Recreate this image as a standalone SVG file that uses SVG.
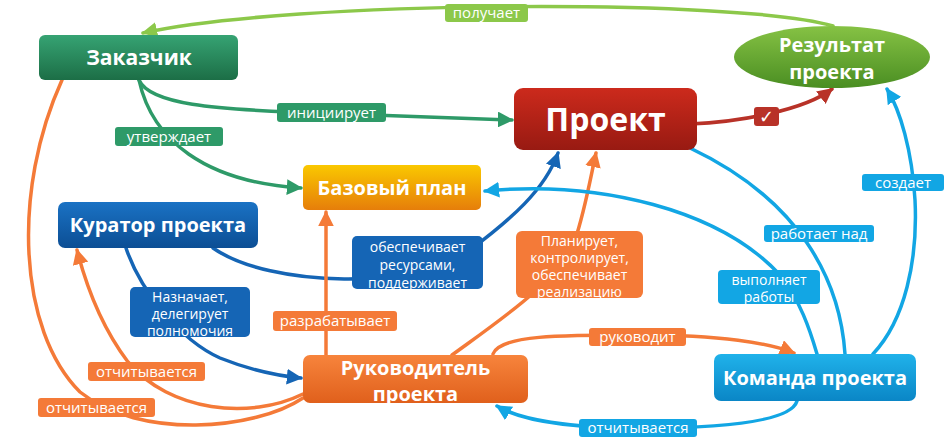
<svg xmlns="http://www.w3.org/2000/svg" width="950" height="438" viewBox="0 0 950 438">
<defs>
<linearGradient id="gZak" x1="0" y1="0" x2="0" y2="1"><stop offset="0" stop-color="#36a373"/><stop offset="1" stop-color="#1c6e46"/></linearGradient>
<linearGradient id="gPro" x1="0" y1="0" x2="0" y2="1"><stop offset="0" stop-color="#cc2a1c"/><stop offset="1" stop-color="#981a12"/></linearGradient>
<linearGradient id="gRes" x1="0" y1="0" x2="0" y2="1"><stop offset="0" stop-color="#86c244"/><stop offset="1" stop-color="#4a8e22"/></linearGradient>
<linearGradient id="gBaz" x1="0" y1="0" x2="0" y2="1"><stop offset="0" stop-color="#fac800"/><stop offset="1" stop-color="#e67e0a"/></linearGradient>
<linearGradient id="gKur" x1="0" y1="0" x2="0" y2="1"><stop offset="0" stop-color="#1a72c4"/><stop offset="1" stop-color="#0c4e94"/></linearGradient>
<linearGradient id="gRuk" x1="0" y1="0" x2="0" y2="1"><stop offset="0" stop-color="#f7843c"/><stop offset="1" stop-color="#e0601c"/></linearGradient>
<linearGradient id="gKom" x1="0" y1="0" x2="0" y2="1"><stop offset="0" stop-color="#20b2ea"/><stop offset="1" stop-color="#0a86c6"/></linearGradient>
<marker id="aLG" viewBox="0 0 10 10" refX="9" refY="5" markerWidth="4.5" markerHeight="4.5" orient="auto"><path d="M0 0 L10 5 L0 10 z" fill="#8cc84a"/></marker>
<marker id="aG" viewBox="0 0 10 10" refX="9" refY="5" markerWidth="4.5" markerHeight="4.5" orient="auto"><path d="M0 0 L10 5 L0 10 z" fill="#2e9a68"/></marker>
<marker id="aR" viewBox="0 0 10 10" refX="9" refY="5" markerWidth="4.5" markerHeight="4.5" orient="auto"><path d="M0 0 L10 5 L0 10 z" fill="#b83228"/></marker>
<marker id="aB" viewBox="0 0 10 10" refX="9" refY="5" markerWidth="4.5" markerHeight="4.5" orient="auto"><path d="M0 0 L10 5 L0 10 z" fill="#1565b5"/></marker>
<marker id="aO" viewBox="0 0 10 10" refX="9" refY="5" markerWidth="4.5" markerHeight="4.5" orient="auto"><path d="M0 0 L10 5 L0 10 z" fill="#f47a38"/></marker>
<marker id="aC" viewBox="0 0 10 10" refX="9" refY="5" markerWidth="4.5" markerHeight="4.5" orient="auto"><path d="M0 0 L10 5 L0 10 z" fill="#12a6e4"/></marker>
</defs>
<style>
.node text{font-family:"Open Sans","Noto Sans",sans-serif;font-weight:bold;fill:#fff;text-anchor:middle}
.nt{font-size:20px}
.c{fill:none;stroke-width:3.5;stroke-linecap:round}
.lbl{font-family:"Open Sans","Noto Sans",sans-serif;font-size:15px;fill:#fff;text-anchor:middle}
.ml{font-size:14px}
.lg{stroke:#8cc84a}.g{stroke:#2e9a68}.r{stroke:#b83228}.b{stroke:#1565b5}.o{stroke:#f47a38}.cy{stroke:#12a6e4}
</style>
<g id="connectors">
<path class="c lg" d="M833 26 C740 -2 290 0 143 33" marker-end="url(#aLG)"/>
<path class="c g" d="M139 80 C150 105 220 109 290 112 L512 120" marker-end="url(#aG)"/>
<path class="c g" d="M139 80 C152 140 205 182 301 188" marker-end="url(#aG)"/>
<path class="c r" d="M690 124 C740 122 805 110 832 89" marker-end="url(#aR)"/>
<path class="c b" d="M213 248 C270 288 420 290 470 250 C510 220 545 190 558 153" marker-end="url(#aB)"/>
<path class="c b" d="M126 248 C140 290 180 340 220 358 C250 370 280 376 301 378" marker-end="url(#aB)"/>
<path class="c o" d="M452 355 C500 320 560 280 575 240 C585 210 590 180 596 153" marker-end="url(#aO)"/>
<path class="c o" d="M326 355 L326 212" marker-end="url(#aO)"/>
<path class="c o" d="M303 394 C250 420 170 412 128 362 C100 325 86 285 77 250" marker-end="url(#aO)"/>
<path class="c o" d="M62 80 C12 190 18 330 80 392 C140 440 255 430 303 398"/>
<path class="c o" d="M493 354 C500 335 560 335 640 335 C720 335 770 343 794 353" marker-end="url(#aO)"/>
<path class="c cy" d="M797 401 C790 425 700 428 640 428 C570 428 520 420 497 406" marker-end="url(#aC)"/>
<path class="c cy" d="M817 354 C810 330 800 300 780 275 C720 210 600 180 485 191" marker-end="url(#aC)"/>
<path class="c cy" d="M845 354 C840 280 800 200 690 148"/>
<path class="c cy" d="M873 354 C905 320 918 260 915 200 C912 150 900 110 887 89" marker-end="url(#aC)"/>
</g>
<g id="labels">
<rect x="445" y="4" width="83" height="18" rx="3" fill="#8cc84a"/><text class="lbl" x="486.5" y="18">получает</text>
<rect x="277" y="103" width="109" height="19" rx="3" fill="#2e9a68"/><text class="lbl" x="331.5" y="118">инициирует</text>
<rect x="115" y="127" width="108" height="19" rx="3" fill="#2e9a68"/><text class="lbl" x="169" y="142">утверждает</text>
<rect x="754" y="107" width="25" height="19" rx="3" fill="#b83228"/><text class="lbl" x="766.5" y="123" style="font-family:'DejaVu Sans',sans-serif;font-weight:bold;font-size:18px">✓</text>
<rect x="352" y="236" width="131" height="53" rx="5" fill="#1565b5"/><text class="lbl ml" x="417.5" y="252">обеспечивает</text><text class="lbl ml" x="417.5" y="270">ресурсами,</text><text class="lbl ml" x="417.5" y="288">поддерживает</text>
<rect x="516" y="231" width="127" height="67" rx="6" fill="#f47a38"/><text class="lbl ml" x="579.5" y="246">Планирует,</text><text class="lbl ml" x="579.5" y="263">контролирует,</text><text class="lbl ml" x="579.5" y="280">обеспечивает</text><text class="lbl ml" x="579.5" y="297">реализацию</text>
<rect x="273" y="311" width="124" height="20" rx="3" fill="#f47a38"/><text class="lbl" x="335" y="326">разрабатывает</text>
<rect x="130" y="287" width="120" height="50" rx="5" fill="#1565b5"/><text class="lbl ml" x="190" y="302">Назначает,</text><text class="lbl ml" x="190" y="319">делегирует</text><text class="lbl ml" x="190" y="336">полномочия</text>
<rect x="88" y="362" width="117" height="19" rx="3" fill="#f47a38"/><text class="lbl" x="146.5" y="377">отчитывается</text>
<rect x="38" y="398" width="117" height="19" rx="3" fill="#f47a38"/><text class="lbl" x="96.5" y="413">отчитывается</text>
<rect x="589" y="328" width="97" height="18" rx="3" fill="#f47a38"/><text class="lbl" x="637.5" y="342">руководит</text>
<rect x="579" y="419" width="118" height="18" rx="3" fill="#12a6e4"/><text class="lbl" x="638" y="433">отчитывается</text>
<rect x="718" y="270" width="102" height="34" rx="4" fill="#12a6e4"/><text class="lbl ml" x="769" y="285">выполняет</text><text class="lbl ml" x="769" y="302">работы</text>
<rect x="764" y="225" width="110" height="17" rx="3" fill="#12a6e4"/><text class="lbl" x="819" y="239">работает над</text>
<rect x="862" y="174" width="82" height="17" rx="3" fill="#12a6e4"/><text class="lbl" x="903" y="188">создает</text>
</g>
<g id="n-zakazchik" class="node"><rect x="39" y="35" width="199" height="45" rx="6" fill="url(#gZak)"/><text class="nt" x="139" y="65" style="font-size:21px">Заказчик</text></g>
<g id="n-proekt" class="node"><rect x="514" y="88" width="183" height="62" rx="9" fill="url(#gPro)"/><text x="605.5" y="131" style="font-size:32px">Проект</text></g>
<g id="n-rezultat" class="node"><ellipse cx="832" cy="57" rx="98" ry="31" fill="url(#gRes)"/><text class="nt" x="832" y="52">Результат</text><text class="nt" x="832" y="79">проекта</text></g>
<g id="n-bazovy" class="node"><rect x="303" y="165" width="178" height="45" rx="5" fill="url(#gBaz)"/><text class="nt" x="392" y="195">Базовый план</text></g>
<g id="n-kurator" class="node"><rect x="58" y="202" width="200" height="46" rx="7" fill="url(#gKur)"/><text class="nt" x="158" y="232">Куратор проекта</text></g>
<g id="n-rukovod" class="node"><rect x="303" y="355" width="225" height="48" rx="7" fill="url(#gRuk)"/><text class="nt" x="415.5" y="375">Руководитель</text><text class="nt" x="415.5" y="401">проекта</text></g>
<g id="n-komanda" class="node"><rect x="714" y="354" width="202" height="47" rx="7" fill="url(#gKom)"/><text class="nt" x="815" y="385">Команда проекта</text></g>
</svg>
